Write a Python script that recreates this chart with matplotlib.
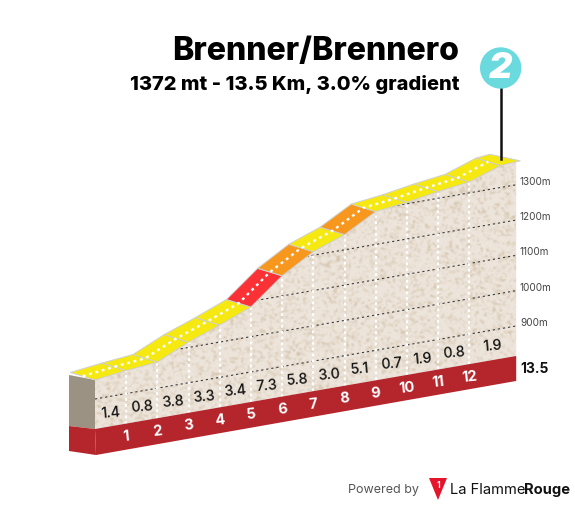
import numpy as np
import matplotlib
matplotlib.use("Agg")
import matplotlib.pyplot as plt
from matplotlib.patches import Polygon, Circle

# Values
road_km = [0, 1, 2, 3, 4, 5, 6, 7, 8, 9, 10, 11, 12, 13, 13.5]
road_elev = [954, 965, 974, 1015, 1048, 1084, 1157, 1210, 1243, 1293, 1304, 1319, 1331, 1362, 1365]
seg_grade = [1.4, 0.8, 3.8, 3.3, 3.4, 7.3, 5.8, 3.0, 5.1, 0.7, 1.9, 0.8, 1.9, 1.9]
label_km = [0.5, 1.5, 2.5, 3.5, 4.5, 5.5, 6.5, 7.5, 8.5, 9.5, 10.5, 11.5, 12.75]
label_grade = ["1.4", "0.8", "3.8", "3.3", "3.4", "7.3", "5.8", "3.0", "5.1", "0.7", "1.9", "0.8", "1.9"]
km_marks = [1, 2, 3, 4, 5, 6, 7, 8, 9, 10, 11, 12]
grid_elev = [900, 1000, 1100, 1200, 1300]

TITLE = "Brenner/Brennero"
SUBTITLE = "1372 mt - 13.5 Km, 3.0% gradient"
FONT = "Inter"

# Oblique projection: km and metres to pixels
PX_KM = 31.2
PX_M = 0.353
SKEW = 0.1734
X0, Y0 = 95, 430
ELEV0 = 815
BACK = (-24.5, -7.5)


def km_x(km):
    return X0 + PX_KM * np.asarray(km, dtype=float)


def base_y(km):
    return Y0 - SKEW * PX_KM * np.asarray(km, dtype=float)


def elev_y(km, elev):
    return base_y(km) - (np.asarray(elev, dtype=float) - ELEV0) * PX_M


def grade_color(g):
    if g >= 7:
        return "#fb3235"
    if g >= 5:
        return "#f7971d"
    return "#f5e911"


fig = plt.figure(figsize=(5.75, 5.06), dpi=100)
ax = fig.add_axes([0, 0, 1, 1])
ax.axis("off")

rx = km_x(road_km)
ry = elev_y(road_km, road_elev)

# Ground with speckled texture
ground = Polygon(
    list(zip(rx, ry)) + [(km_x(13.5), base_y(13.5)), (X0, Y0)],
    closed=True, facecolor="none", edgecolor="none",
)
ax.add_patch(ground)

rng = np.random.default_rng(3)
h, w = 320, 440
noise = rng.random((h, w))
fy = np.fft.fftfreq(h)[:, None]
fx = np.fft.fftfreq(w)[None, :]
blur = np.fft.ifft2(np.fft.fft2(noise) * np.exp(-2 * (np.pi * 1.0) ** 2 * (fx**2 + fy**2))).real
blur = (blur - blur.mean()) / blur.std()
light = np.array([237, 229, 219]) / 255
dark = np.array([214, 198, 176]) / 255
amount = np.clip((blur + 0.3) / 3.4, 0, 1)[..., None]
tex = light * (1 - amount) + dark * amount
img = ax.imshow(tex, extent=(90, 520, 440, 150), aspect="auto", interpolation="bilinear", zorder=1)
img.set_clip_path(ground)

# Elevation grid
for e in grid_elev:
    gl, = ax.plot(km_x([0, 13.5]), elev_y([0, 13.5], [e, e]), color="#3c3c3c", lw=0.8,
                  ls=(0, (2, 2.6)), zorder=2)
    gl.set_clip_path(ground)
    ax.text(520, elev_y(13.5, e) - 4, f"{e}m", fontsize=7.2, color="#444444",
            family=FONT, ha="left", va="center", zorder=6)

# Km verticals
for km, e in zip(road_km, road_elev):
    if km in km_marks:
        ax.plot([km_x(km)] * 2, [base_y(km), elev_y(km, e)], color="white", lw=1.6,
                ls=(0, (1.2, 1.4)), zorder=3)

# Side face and base band
ax.add_patch(Polygon([(69, 376), (X0, ry[0]), (X0, Y0), (69, 427)], closed=True,
                     facecolor="#9c9284", edgecolor="none", zorder=3))
ax.add_patch(Polygon([(69, 427), (X0, Y0), (X0 + 1, Y0 + 26), (69, 452)], closed=True,
                     facecolor="#b5252c", edgecolor="none", zorder=3))
ax.add_patch(Polygon([(X0, Y0), (km_x(13.5), base_y(13.5)), (km_x(13.5), base_y(13.5) + 25),
                      (X0 + 1, Y0 + 26)], closed=True,
                     facecolor="#b5252c", edgecolor="none", zorder=3))

# Road segments
for i, g in enumerate(seg_grade):
    x1, y1, x2, y2 = rx[i], ry[i], rx[i + 1], ry[i + 1]
    x3, y3 = x2 + BACK[0], y2 + BACK[1]
    if i == len(seg_grade) - 1:
        x2 += 4
        y2 -= 1
        x3 -= 2
    ax.add_patch(Polygon([(x1, y1), (x2, y2), (x3, y3), (x1 + BACK[0], y1 + BACK[1])],
                         closed=True, facecolor=grade_color(g), edgecolor="#cfcfcf", lw=0.7,
                         joinstyle="round", zorder=4))

# Centre line
ax.plot(rx[:-1] + BACK[0] / 2, ry[:-1] + BACK[1] / 2, color="white", lw=1.7,
        ls=(0, (1.2, 1.6)), zorder=5)

# Labels on the profile
for km, lab in zip(label_km, label_grade):
    ax.text(km_x(km), base_y(km) - 14.5, lab, fontsize=10.3, fontweight="medium", color="#111111",
            family=FONT, ha="center", va="center", rotation=5, zorder=6)
for km in km_marks:
    ax.text(km_x(km), base_y(km) + 12, str(km), fontsize=10.5, fontweight="bold", color="white",
            family=FONT, ha="center", va="center", rotation=6, zorder=6)
ax.text(520, 369, "13.5", fontsize=10, fontweight="bold", color="#111111",
        family=FONT, ha="left", va="center", zorder=6)

# Title
ax.text(459, 60, TITLE, fontsize=23.1, fontweight="heavy", color="black", family=FONT,
        ha="right", va="baseline")
ax.text(459, 90, SUBTITLE, fontsize=14.4, fontweight="heavy", color="black", family=FONT,
        ha="right", va="baseline")

# Summit badge
ax.plot([501, 501], [85, 160], color="#111111", lw=1.8, zorder=7)
ax.add_patch(Circle((500.7, 69), 20.7, facecolor="#6adade", edgecolor="none", zorder=8))
ax.text(500.7, 68.5, "2", fontsize=26, fontweight="black", style="italic", color="white",
        family=FONT, ha="center", va="center", zorder=9)

# Footer
ax.text(348, 490, "Powered by", fontsize=9, color="#555555", family=FONT, ha="left", va="center")
ax.add_patch(Polygon([(429, 479), (447, 479), (438, 501)], closed=True, facecolor="#e4152b", edgecolor="none"))
ax.text(438, 486, "1", fontsize=6, fontweight="bold", color="white", family=FONT, ha="center", va="center")
ax.text(450, 490, "La Flamme", fontsize=10.6, color="#111111", family=FONT, ha="left", va="center")
ax.text(570, 490, "Rouge", fontsize=10.6, fontweight="bold", color="#111111", family=FONT, ha="right", va="center")

ax.set_xlim(0, 575)
ax.set_ylim(506, 0)
fig.savefig("out.png", dpi=100, facecolor="white")
